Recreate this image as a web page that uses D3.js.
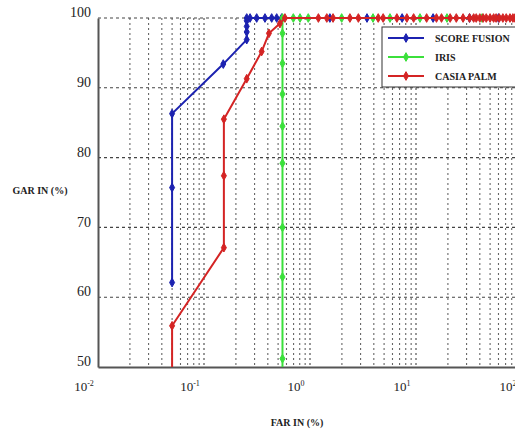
<!DOCTYPE html>
<html>
<head>
<meta charset="utf-8">
<script src="https://cdn.jsdelivr.net/npm/d3@7"></script>
<style>
  body { margin: 0; background: #fff; }
  svg { display: block; }
  text { font-family: "Liberation Serif", "DejaVu Serif", serif; fill: #222; }
</style>
</head>
<body>
<div id="chart"></div>
<script>
// FAR (%) and GAR (%)
var fusionFar = [0.05, 0.05, 0.05, 0.152, 0.253, 0.253, 0.253, 0.253, 0.253, 0.272, 0.314, 0.376, 0.435, 0.485, 0.541, 1.54, 3.45, 7.4, 14.5, 32, 60];
var fusionGar = [62.1, 75.7, 86.3, 93.4, 96.9, 98.0, 98.8, 99.6, 100, 100, 100, 100, 100, 100, 100, 100, 100, 100, 100, 100, 100];

var irisFar = [0.55, 0.55, 0.55, 0.55, 0.55, 0.55, 0.55, 0.55, 0.55, 0.55, 0.696, 0.805, 0.963, 1.99, 3.93, 5.68, 10.9, 19.6, 42];
var irisGar = [45, 51.2, 62.9, 70.0, 79.2, 84.5, 89.1, 93.5, 97.8, 100, 100, 100, 100, 100, 100, 100, 100, 100, 100];

var palmFar = [0.05, 0.05, 0.154, 0.154, 0.154, 0.253, 0.35, 0.41, 0.52, 0.58, 1.2, 1.44, 1.65, 2.38, 2.86, 4.4, 4.9, 6.6, 8.2, 9.5, 12.6, 15.6, 17.4, 21, 24, 27.8, 32, 35, 37, 40, 43, 46, 50, 54, 57, 61, 66, 71, 77, 82, 86, 92, 100];
var palmGar = [45, 55.9, 67.1, 77.4, 85.5, 91.3, 95.2, 97.8, 99.2, 100, 100, 100, 100, 100, 100, 100, 100, 100, 100, 100, 100, 100, 100, 100, 100, 100, 100, 100, 100, 100, 100, 100, 100, 100, 100, 100, 100, 100, 100, 100, 100, 100, 100];

var seriesNames = ["SCORE FUSION", "IRIS", "CASIA PALM"];
var xTicks = [0.01, 0.1, 1, 10, 100];
var xTickExp = ["-2", "-1", "0", "1", "2"];
var yTicks = [50, 60, 70, 80, 90, 100];

var width = 515, height = 432;
var mLeft = 98, mTop = 18, mRight = 522, mBottom = 367;
var colors = ["#1c22b0", "#3be03b", "#d42424"];

var series = [
  fusionFar.map(function(f, i) { return [f, fusionGar[i]]; }),
  irisFar.map(function(f, i) { return [f, irisGar[i]]; }),
  palmFar.map(function(f, i) { return [f, palmGar[i]]; })
];

var x = d3.scaleLog().domain([0.01, 100]).range([mLeft, mRight]);
var y = d3.scaleLinear().domain([50, 100]).range([mBottom, mTop]);

var svg = d3.select("#chart").append("svg")
  .attr("width", width)
  .attr("height", height);

svg.append("defs").append("clipPath").attr("id", "plot")
  .append("rect")
  .attr("x", mLeft).attr("y", mTop - 6)
  .attr("width", mRight - mLeft + 6).attr("height", mBottom - mTop + 6);

// grid
var minor = [];
[0.01, 0.1, 1, 10].forEach(function(d) {
  for (var k = 2; k <= 9; k++) minor.push(d * k);
});

svg.append("g").selectAll("line")
  .data(minor)
  .enter().append("line")
  .attr("x1", function(d) { return x(d); })
  .attr("x2", function(d) { return x(d); })
  .attr("y1", mTop).attr("y2", mBottom)
  .attr("stroke", "#666")
  .attr("stroke-width", 1.1)
  .attr("stroke-dasharray", "2,3");

svg.append("g").selectAll("line")
  .data(xTicks.slice(1))
  .enter().append("line")
  .attr("x1", function(d) { return x(d); })
  .attr("x2", function(d) { return x(d); })
  .attr("y1", mTop).attr("y2", mBottom)
  .attr("stroke", "#444")
  .attr("stroke-width", 1.1)
  .attr("stroke-dasharray", "2,3");

svg.append("g").selectAll("line")
  .data(yTicks.slice(1))
  .enter().append("line")
  .attr("x1", mLeft).attr("x2", mRight)
  .attr("y1", function(d) { return y(d); })
  .attr("y2", function(d) { return y(d); })
  .attr("stroke", "#444")
  .attr("stroke-width", 1.1)
  .attr("stroke-dasharray", "3,3");

// axes
var yAxis = svg.append("g")
  .attr("transform", "translate(" + mLeft + ",0)")
  .call(d3.axisLeft(y).tickValues(yTicks).tickSize(0).tickPadding(7));
yAxis.select(".domain").attr("stroke", "#555").attr("stroke-width", 2);
yAxis.selectAll("text")
  .attr("dy", "-0.1em")
  .style("font-family", "Liberation Serif")
  .style("font-size", "14px")
  .style("fill", "#222");

var xAxis = svg.append("g")
  .attr("transform", "translate(0," + mBottom + ")")
  .call(d3.axisBottom(x).tickValues(xTicks).tickSize(0).tickFormat(""));
xAxis.select(".domain").attr("stroke", "#555").attr("stroke-width", 2);

var xl = svg.append("g").selectAll("text")
  .data(xTicks)
  .enter().append("text")
  .attr("x", function(d) { return x(d) - 14; })
  .attr("y", mBottom + 24)
  .attr("text-anchor", "middle")
  .style("font-size", "13px");
xl.append("tspan").text("10");
xl.append("tspan")
  .attr("dy", "-5")
  .style("font-size", "8px")
  .text(function(d, i) { return xTickExp[i]; });

svg.append("text")
  .attr("x", 40).attr("y", 194)
  .attr("text-anchor", "middle")
  .style("font-size", "10px")
  .style("font-weight", "bold")
  .text("GAR IN (%)");

svg.append("text")
  .attr("x", 297).attr("y", 426)
  .attr("text-anchor", "middle")
  .style("font-size", "10px")
  .style("font-weight", "bold")
  .text("FAR IN (%)");

// lines
var line = d3.line()
  .x(function(d) { return x(d[0]); })
  .y(function(d) { return y(d[1]); });

var marker = d3.symbol().type(d3.symbolDiamond).size(22);

var plot = svg.append("g").attr("clip-path", "url(#plot)");

series.forEach(function(s, i) {
  plot.append("path")
    .datum(s)
    .attr("d", line)
    .attr("fill", "none")
    .attr("stroke", colors[i])
    .attr("stroke-width", 2);
  plot.selectAll("path.m" + i)
    .data(s)
    .enter().append("path")
    .attr("class", "m" + i)
    .attr("d", marker)
    .attr("transform", function(d) { return "translate(" + x(d[0]) + "," + y(d[1]) + ")"; })
    .attr("fill", colors[i])
    .attr("stroke", colors[i])
    .attr("stroke-width", 1);
});

// legend
var lg = svg.append("g").attr("transform", "translate(382,27)");
lg.append("rect")
  .attr("width", 150).attr("height", 60)
  .attr("fill", "#fff")
  .attr("stroke", "#333")
  .attr("stroke-width", 1);

seriesNames.forEach(function(name, i) {
  var row = lg.append("g").attr("transform", "translate(0," + (11 + i * 19) + ")");
  row.append("line")
    .attr("x1", 6).attr("x2", 42)
    .attr("stroke", colors[i]).attr("stroke-width", 2);
  row.append("path")
    .attr("d", marker)
    .attr("transform", "translate(24,0)")
    .attr("fill", colors[i]).attr("stroke", colors[i]);
  row.append("text")
    .attr("x", 53).attr("dy", "0.35em")
    .style("font-size", "10px")
    .style("font-weight", "bold")
    .text(name);
});
</script>
</body>
</html>
